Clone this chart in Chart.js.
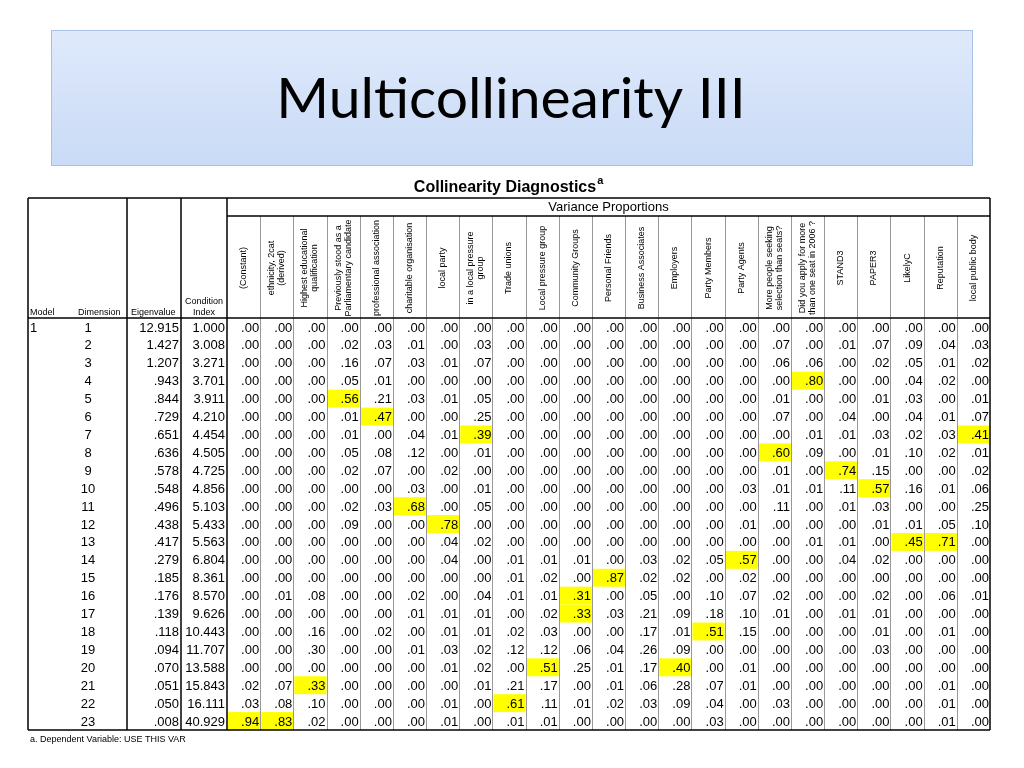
<!DOCTYPE html>
<html><head><meta charset="utf-8">
<script src="https://cdn.jsdelivr.net/npm/chart.js@4"></script>
<style>html,body{margin:0;padding:0;background:#fff;overflow:hidden}canvas{display:block}</style>
</head><body>
<canvas id="c" width="1024" height="768"></canvas>
<script>
const title = "Multicollinearity III";
const caption = "Collinearity Diagnostics";
const footnote = "a. Dependent Variable: USE THIS VAR";
const variables = [
  ["(Constant)"], ["ethnicity, 2cat","(derived)"], ["Highest educational","qualification"],
  ["Previously stood as a","Parliamentary candidate"], ["professional association"], ["charitable organisation"],
  ["local party"], ["in a local pressure","group"], ["Trade unions"], ["Local pressure group"],
  ["Community Groups"], ["Personal Friends"], ["Business Associates"], ["Employers"],
  ["Party Members"], ["Party Agents"], ["More people seeking","selection than seats?"],
  ["Did you apply for more","than one seat in 2006 ?"], ["STAND3"], ["PAPER3"], ["LikelyC"],
  ["Reputation"], ["local public body"]
];
const dimensions = ["1","2","3","4","5","6","7","8","9","10","11","12","13","14","15","16","17","18","19","20","21","22","23"];
const eigenvalues = ["12.915","1.427","1.207",".943",".844",".729",".651",".636",".578",".548",".496",".438",".417",".279",".185",".176",".139",".118",".094",".070",".051",".050",".008"];
const conditionIndex = ["1.000","3.008","3.271","3.701","3.911","4.210","4.454","4.505","4.725","4.856","5.103","5.433","5.563","6.804","8.361","8.570","9.626","10.443","11.707","13.588","15.843","16.111","40.929"];
const proportions = [
  [0,0,0,0,0,0,0,0, 0,0,0,0,0,0,0,0,0,0,0,0,0,0,0],
  [0,0,0,.02,.03,.01,0,.03, 0,0,0,0,0,0,0,0,.07,0,.01,.07,.09,.04,.03],
  [0,0,0,.16,.07,.03,.01,.07, 0,0,0,0,0,0,0,0,.06,.06,0,.02,.05,.01,.02],
  [0,0,0,.05,.01,0,0,0, 0,0,0,0,0,0,0,0,0,.80,0,0,.04,.02,0],
  [0,0,0,.56,.21,.03,.01,.05, 0,0,0,0,0,0,0,0,.01,0,0,.01,.03,0,.01],
  [0,0,0,.01,.47,0,0,.25, 0,0,0,0,0,0,0,0,.07,0,.04,0,.04,.01,.07],
  [0,0,0,.01,0,.04,.01,.39, 0,0,0,0,0,0,0,0,0,.01,.01,.03,.02,.03,.41],
  [0,0,0,.05,.08,.12,0,.01, 0,0,0,0,0,0,0,0,.60,.09,0,.01,.10,.02,.01],
  [0,0,0,.02,.07,0,.02,0, 0,0,0,0,0,0,0,0,.01,0,.74,.15,0,0,.02],
  [0,0,0,0,0,.03,0,.01, 0,0,0,0,0,0,0,.03,.01,.01,.11,.57,.16,.01,.06],
  [0,0,0,.02,.03,.68,0,.05, 0,0,0,0,0,0,0,0,.11,0,.01,.03,0,0,.25],
  [0,0,0,.09,0,0,.78,0, 0,0,0,0,0,0,0,.01,0,0,0,.01,.01,.05,.10],
  [0,0,0,0,0,0,.04,.02, 0,0,0,0,0,0,0,0,0,.01,.01,0,.45,.71,0],
  [0,0,0,0,0,0,.04,0, .01,.01,.01,0,.03,.02,.05,.57,0,0,.04,.02,0,0,0],
  [0,0,0,0,0,0,0,0, .01,.02,0,.87,.02,.02,0,.02,0,0,0,0,0,0,0],
  [0,.01,.08,0,0,.02,0,.04, .01,.01,.31,0,.05,0,.10,.07,.02,0,0,.02,0,.06,.01],
  [0,0,0,0,0,.01,.01,.01, 0,.02,.33,.03,.21,.09,.18,.10,.01,0,.01,.01,0,0,0],
  [0,0,.16,0,.02,0,.01,.01, .02,.03,0,0,.17,.01,.51,.15,0,0,0,.01,0,.01,0],
  [0,0,.30,0,0,.01,.03,.02, .12,.12,.06,.04,.26,.09,0,0,0,0,0,.03,0,0,0],
  [0,0,0,0,0,0,.01,.02, 0,.51,.25,.01,.17,.40,0,.01,0,0,0,0,0,0,0],
  [.02,.07,.33,0,0,0,0,.01, .21,.17,0,.01,.06,.28,.07,.01,0,0,0,0,0,.01,0],
  [.03,.08,.10,0,0,0,.01,0, .61,.11,.01,.02,.03,.09,.04,0,.03,0,0,0,0,.01,0],
  [.94,.83,.02,0,0,0,.01,0, .01,.01,0,0,0,0,.03,0,0,0,0,0,0,.01,0]
];
const HIGHLIGHT = 0.30;

const colKeys = variables.map((v,i)=>'c'+i);
const cells = [];
proportions.forEach((row,r)=>row.forEach((v,c)=>cells.push({x:colKeys[c], y:dimensions[r], v})));
const fmt = v => '.' + Math.round(v*100).toString().padStart(2,'0');
const F = '"Liberation Sans", Arial, sans-serif';

const L = {tableL:28, tableR:990, top:198, vpLine:216, hdrBottom:318, bottom:730, dimR:127, eigR:181, condR:227};

const tablePlugin = {
  id:'tbl',
  beforeDraw(chart){
    const ctx = chart.ctx;
    ctx.save();
    ctx.fillStyle='#fff'; ctx.fillRect(0,0,1024,768);
    const g = ctx.createLinearGradient(0,30,0,165);
    g.addColorStop(0,'#dfe9fb'); g.addColorStop(1,'#c9dbf6');
    ctx.fillStyle=g; ctx.fillRect(51,30,921,135);
    ctx.strokeStyle='#a8c0e6'; ctx.lineWidth=1; ctx.strokeRect(51.5,30.5,921,135);
    ctx.fillStyle='#000'; ctx.font='57px Lato, "Open Sans", sans-serif';
    ctx.textAlign='center'; ctx.textBaseline='middle';
    ctx.fillText(title,511,100);
    ctx.font='bold 16px '+F; ctx.textBaseline='alphabetic';
    const w = ctx.measureText(caption).width;
    ctx.fillText(caption,505,192);
    ctx.font='bold 11px '+F; ctx.textAlign='left'; ctx.fillText('a',505+w/2+1,184);
    ctx.restore();
  },
  afterDatasetsDraw(chart){
    const ctx = chart.ctx, xs = chart.scales.x, ys = chart.scales.y;
    const cw = xs.width/variables.length, rh = ys.height/dimensions.length;
    ctx.save();
    const meta = chart.getDatasetMeta(0);
    meta.data.forEach((el,i)=>{
      const d = cells[i];
      if(d.v>HIGHLIGHT){ ctx.fillStyle='#ffff00'; ctx.fillRect(el.x-cw/2+1, el.y-rh/2, cw-1, rh); }
    });
    ctx.strokeStyle='#999'; ctx.lineWidth=1;
    for(let c=1;c<variables.length;c++){
      const x=Math.round(xs.left+c*cw)+0.5;
      ctx.beginPath(); ctx.moveTo(x,L.vpLine); ctx.lineTo(x,L.bottom); ctx.stroke();
    }
    ctx.strokeStyle='#000'; ctx.lineWidth=1.5;
    [[L.tableL,L.top,L.tableL,L.bottom],[L.tableR,L.top,L.tableR,L.bottom],[L.tableL,L.top,L.tableR,L.top],
     [L.tableL,L.bottom,L.tableR,L.bottom],[L.tableL,L.hdrBottom,L.tableR,L.hdrBottom],
     [L.dimR,L.top,L.dimR,L.bottom],[L.eigR,L.top,L.eigR,L.bottom],[L.condR,L.top,L.condR,L.bottom],
     [L.condR,L.vpLine,L.tableR,L.vpLine]].forEach(a=>{ctx.beginPath();ctx.moveTo(a[0],a[1]);ctx.lineTo(a[2],a[3]);ctx.stroke();});
    ctx.fillStyle='#000'; ctx.font='13px '+F; ctx.textBaseline='middle'; ctx.textAlign='right';
    meta.data.forEach((el,i)=>{ ctx.fillText(fmt(cells[i].v), el.x+cw/2-1, el.y+1); });
    dimensions.forEach((d,r)=>{
      const y = ys.getPixelForValue(r)+1;
      ctx.textAlign='right'; ctx.fillText(eigenvalues[r], L.eigR-2, y); ctx.fillText(conditionIndex[r], L.condR-2, y);
      ctx.textAlign='center'; ctx.fillText(d, 88, y);
      if(r===0){ ctx.textAlign='left'; ctx.fillText('1', 30, y); }
    });
    ctx.font='13px '+F; ctx.textAlign='center'; ctx.textBaseline='middle';
    ctx.fillText('Variance Proportions', (L.condR+L.tableR)/2, 207);
    ctx.font='9px '+F; ctx.textBaseline='alphabetic'; ctx.textAlign='left';
    ctx.fillText('Model',30,315); ctx.fillText('Dimension',78,315); ctx.fillText('Eigenvalue',131,315);
    ctx.textAlign='center'; ctx.fillText('Condition',204,304); ctx.fillText('Index',204,315);
    variables.forEach((lines,c)=>{
      const x = xs.getPixelForValue(c);
      ctx.save(); ctx.translate(x, (L.vpLine+L.hdrBottom)/2 + 1); ctx.rotate(-Math.PI/2);
      ctx.textAlign='center'; ctx.textBaseline='middle';
      const n=lines.length;
      lines.forEach((t,k)=>{ ctx.fillText(t, 0, (k-(n-1)/2)*10); });
      ctx.restore();
    });
    ctx.font='9px '+F; ctx.textAlign='left'; ctx.textBaseline='alphabetic';
    ctx.fillText(footnote, 30, 742);
    ctx.restore();
  }
};

new Chart(document.getElementById('c'), {
  type:'scatter',
  data:{ datasets:[{ data:cells, pointRadius:0, pointHoverRadius:0 }] },
  options:{
    responsive:false, animation:false, devicePixelRatio:1,
    layout:{ padding:{ left:L.condR, right:1024-L.tableR, top:L.hdrBottom, bottom:768-L.bottom } },
    plugins:{ legend:{display:false}, tooltip:{enabled:false} },
    events:[],
    scales:{
      x:{ type:'category', labels:colKeys, offset:true, display:false },
      y:{ type:'category', labels:dimensions, offset:true, display:false }
    }
  },
  plugins:[tablePlugin]
});
</script>
</body></html>
